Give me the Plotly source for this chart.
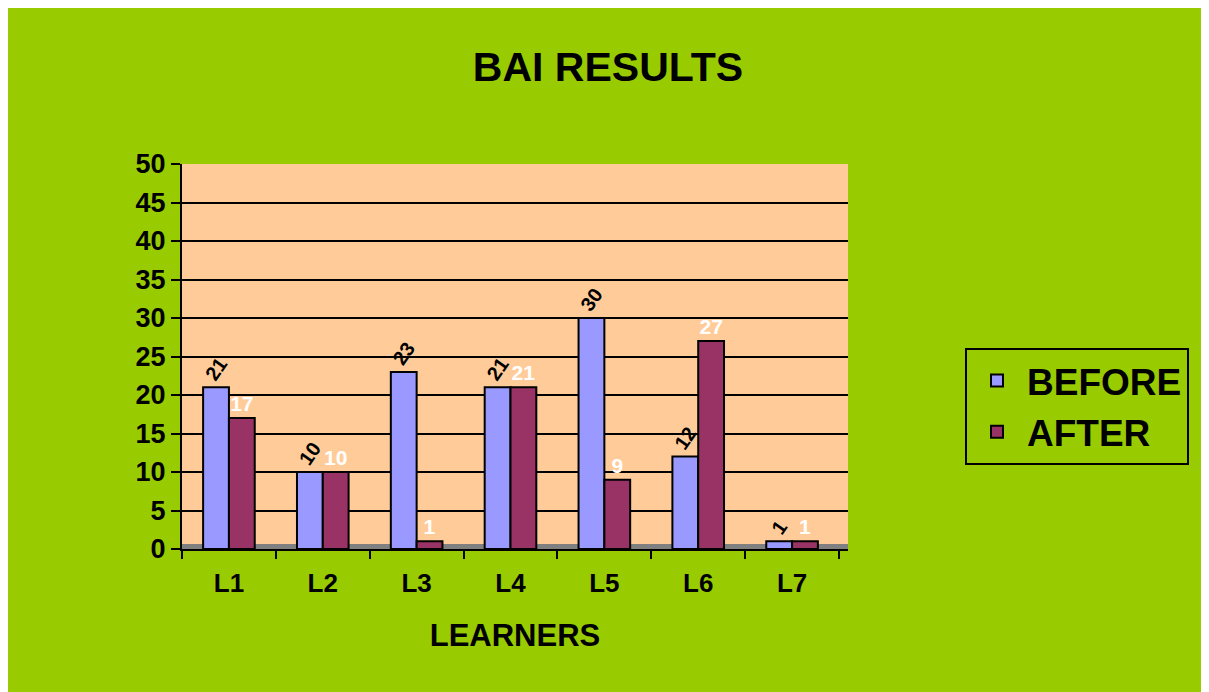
import plotly.graph_objects as go

categories = ["L1", "L2", "L3", "L4", "L5", "L6", "L7"]
before = [21, 10, 23, 21, 30, 12, 1]
after = [17, 10, 1, 21, 9, 27, 1]
y_ticks = [0, 5, 10, 15, 20, 25, 30, 35, 40, 45, 50]

# page has an 8px body margin; work in figure coordinates
OFF = 8
W, H = 1209 - OFF, 692 - OFF
ml = 182 - OFF
mt = 164 - OFF
cat_w = (839 - 182) / 7
pw = 848 - 182
ph = 549 - 164
mr = W - ml - pw
mb = H - mt - ph

GREEN = "#99CC00"
FONT = "Liberation Sans, Arial, sans-serif"

fig = go.Figure()
fig.add_trace(go.Bar(
    name="<b>BEFORE</b>", x=categories, y=before,
    marker=dict(color="#9999FF", line=dict(color="black", width=2)),
    text=[f"<b>{v}</b>" for v in before], textposition="outside", textangle=-55,
    outsidetextfont=dict(color="black", size=20, family=FONT),
    constraintext="none", cliponaxis=False,
))
fig.add_trace(go.Bar(
    name="<b>AFTER</b>", x=categories, y=after,
    marker=dict(color="#993366", line=dict(color="black", width=2)),
    text=[f"<b>{v}</b>" for v in after], textposition="outside", textangle=0,
    outsidetextfont=dict(color="white", size=21, family=FONT),
    constraintext="none", cliponaxis=False,
))

# grey floor strip (3D floor look)
fig.add_shape(type="rect", xref="paper", yref="paper", layer="below",
              x0=0, x1=1, y0=0, y1=5 / ph,
              fillcolor="#808080", line=dict(width=0))

fig.update_layout(
    width=W, height=H,
    margin=dict(l=ml, r=mr, t=mt, b=mb, pad=0),
    paper_bgcolor=GREEN,
    plot_bgcolor="#FFCC99",
    barmode="group", bargap=0.45, bargroupgap=0,
    font=dict(family=FONT, color="black"),
    title=dict(text="<b>BAI RESULTS</b>", x=(608 - OFF) / W, xref="container", xanchor="center",
               y=1 - (67 - OFF) / H, yref="container", yanchor="middle",
               font=dict(size=41, family=FONT, color="black")),
    legend=dict(x=(965 - 182) / pw, y=(549 - 348) / ph, xanchor="left", yanchor="top",
                bgcolor=GREEN, bordercolor="black", borderwidth=2,
                font=dict(size=37, family=FONT, color="black"),
                itemsizing="constant", itemwidth=50, tracegroupgap=0),
    showlegend=True,
)
fig.update_xaxes(
    type="category", range=[-0.5, 6.5 + (pw - 7 * cat_w) / cat_w],
    showline=True, linecolor="black", linewidth=2,
    ticks="outside", tickson="boundaries", ticklen=8, tickwidth=2, tickcolor="black",
    tickfont=dict(size=26, family=FONT, color="black"),
    tickprefix="<b>", ticksuffix="</b>", ticklabelstandoff=10,
    title=dict(text="<b>LEARNERS</b>", font=dict(size=31, family=FONT, color="black"), standoff=27),
    showgrid=False,
)
fig.update_yaxes(
    range=[0, 50], tickvals=y_ticks, ticktext=[f"<b>{v}</b>" for v in y_ticks],
    showline=True, linecolor="black", linewidth=2,
    ticks="outside", ticklen=9, tickwidth=2, tickcolor="black",
    tickfont=dict(size=27, family=FONT, color="black"),
    showgrid=True, gridcolor="black", gridwidth=2,
    zeroline=False, mirror=False,
)

fig.write_html("out.html")
